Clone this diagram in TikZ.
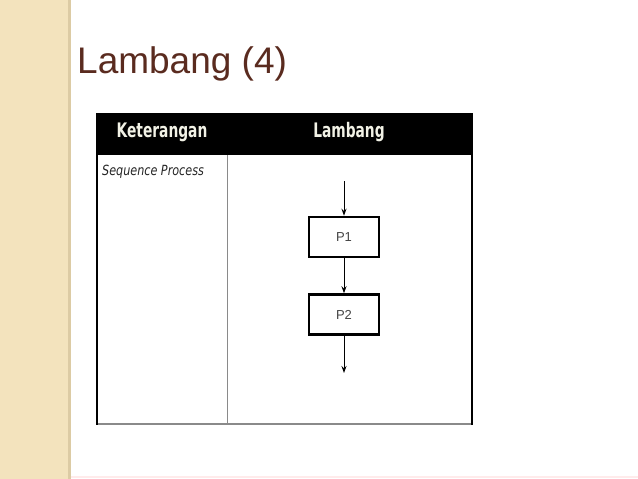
\documentclass[tikz,border=0pt]{standalone}
\usepackage{fontspec}
\setmainfont{Liberation Sans}
\newfontfamily\headfont[FakeStretch=0.69]{DejaVu Sans}
\newfontfamily\notefont[FakeStretch=0.8]{DejaVu Sans}
\usepackage{tikz}
\usetikzlibrary{arrows.meta, positioning}
\definecolor{bandbeige}{HTML}{F3E3BD}
\definecolor{bandedge}{HTML}{DCCBA4}
\definecolor{titlebrown}{HTML}{5A2B1F}
\definecolor{gridgray}{HTML}{8A8A8A}
\definecolor{boxtext}{HTML}{444444}
\definecolor{headwhite}{HTML}{F2F2E6}
\tikzstyle{headtext} = [text=headwhite, font=\headfont\bfseries\fontsize{20}{22}\selectfont]
\tikzstyle{procbox} = [rectangle, 
minimum width=70pt, 
minimum height=40pt, 
draw=black, 
line width=2.5pt, 
fill=white, 
text=boxtext, 
font=\fontsize{13}{15}\selectfont]
\tikzstyle{arrow} = [line width=1pt,-{Stealth[length=7pt,width=5pt]}]

\begin{document}
\begin{tikzpicture}[x=1pt, y=-1pt]
    \useasboundingbox (0,0) rectangle (638,479);
    \fill [white] (0,0) rectangle (638,479);
    % side band
    \fill [bandbeige] (0,0) rectangle (68,479);
    \fill [bandedge] (68,0) rectangle (71,479);
    \draw [red!8, line width=1.5pt] (71,477) -- (638,477);

    % title
    \node (title) [anchor=base west, inner sep=0pt, text=titlebrown, font=\fontsize{37}{40}\selectfont] at (77,73) {Lambang (4)};

    % table
    \fill [black] (97,113) rectangle (473,155);
    \node (colkey) [headtext] at (162,132) {Keterangan};
    \node (colsym) [headtext] at (349,132) {Lambang};
    \draw [gridgray, line width=1pt] (227,155) -- (227,424);
    \draw [gridgray, line width=1.2pt] (97,424) -- (473,424);
    \draw [black, line width=2.5pt] (97,113) -- (97,425);
    \draw [black, line width=2.5pt] (472,113) -- (472,425);
    \node (desc) [anchor=base west, inner sep=0pt, text=black!85, font=\notefont\itshape\fontsize{14}{16}\selectfont] at (102,175) {Sequence Process};

    % sequence
    \node (p1) [procbox] at (344,237) {P1};
    \node (p2) [procbox, below=35pt of p1] {P2};
    \coordinate (start) at (344,181);
    \coordinate (stop) at (344,373);

    \draw [arrow] (start) -- (p1);
    \draw [arrow] (p1) -- (p2);
    \draw [arrow] (p2) -- (stop);
\end{tikzpicture}
\end{document}
